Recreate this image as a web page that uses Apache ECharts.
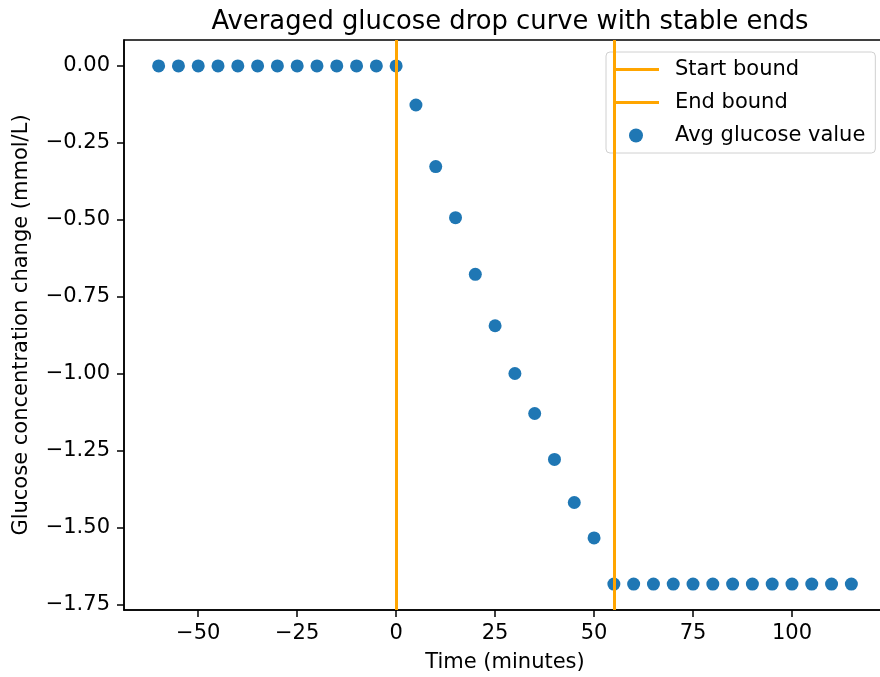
<!DOCTYPE html>
<html>
<head>
<meta charset="utf-8">
<script src="https://cdn.jsdelivr.net/npm/echarts@6/dist/echarts.min.js"></script>
<style>html,body{margin:0;padding:0;background:#fff;}#c{width:880px;height:677px;}</style>
</head>
<body>
<div id="c"></div>
<script>
const times = [-60,-55,-50,-45,-40,-35,-30,-25,-20,-15,-10,-5,0,5,10,15,20,25,30,35,40,45,50,55,60,65,70,75,80,85,90,95,100,105,110,115];
const glucose = [0,0,0,0,0,0,0,0,0,0,0,0,0,-0.127,-0.327,-0.493,-0.677,-0.844,-0.999,-1.129,-1.278,-1.418,-1.533,-1.683,-1.683,-1.683,-1.683,-1.683,-1.683,-1.683,-1.683,-1.683,-1.683,-1.683,-1.683,-1.683];
const startBound = 0;
const endBound = 55;
const xTicks = [-50,-25,0,25,50,75,100];
const yTicks = [0,-0.25,-0.5,-0.75,-1.0,-1.25,-1.5,-1.75];

const FONT = 'DejaVu Sans';
const xMinD = Math.min(...times), xMaxD = Math.max(...times);
const yMinD = Math.min(...glucose), yMaxD = Math.max(...glucose);
const xm = (xMaxD - xMinD) * 0.05, ym = (yMaxD - yMinD) * 0.05;

const chart = echarts.init(document.getElementById('c'), null, {renderer: 'canvas'});
const axisCommon = {
  axisLine: {show: true, onZero: false, lineStyle: {color: '#000', width: 1.5}},
  axisTick: {show: true, length: 7, inside: false, lineStyle: {color: '#000', width: 1.5}},
  splitLine: {show: false},
  nameTextStyle: {fontFamily: FONT, fontSize: 21, color: '#000'}
};
const lineIcon = 'path://M0,0L46,0L46,3L0,3Z';
chart.setOption({
  animation: false,
  backgroundColor: '#fff',
  title: {
    text: 'Averaged glucose drop curve with stable ends',
    left: 505, top: 4, textAlign: 'center',
    textStyle: {fontFamily: FONT, fontSize: 25.8, fontWeight: 'normal', color: '#000'}
  },
  grid: {left: 124, top: 40, width: 762, bottom: 67, containLabel: false, outerBoundsMode: 'none',
    show: true, borderColor: '#000', borderWidth: 1.5, backgroundColor: 'transparent'},
  legend: {
    orient: 'vertical', left: 606, top: 52,
    padding: [7, 10, 7, 7],
    itemWidth: 46, itemHeight: 14, itemGap: 12,
    backgroundColor: 'rgba(255,255,255,0.8)',
    borderColor: '#d0d0d0', borderWidth: 1, borderRadius: 4,
    textStyle: {fontFamily: FONT, fontSize: 21, lineHeight: 21, color: '#000', padding: [0, 0, 0, 11]},
    data: [
      {name: 'Start bound', icon: lineIcon},
      {name: 'End bound', icon: lineIcon},
      {name: 'Avg glucose value', icon: 'circle'}
    ]
  },
  xAxis: Object.assign({}, axisCommon, {
    type: 'value', min: xMinD - xm, max: xMaxD + xm,
    name: 'Time (minutes)', nameLocation: 'middle', nameGap: 42,
    axisLabel: {customValues: xTicks, fontFamily: FONT, fontSize: 21, color: '#000', margin: 13, formatter: v => (v < 0 ? '\u2212' + Math.abs(v) : String(v))},
    axisTick: Object.assign({}, axisCommon.axisTick, {customValues: xTicks})
  }),
  yAxis: Object.assign({}, axisCommon, {
    type: 'value', min: yMinD - ym, max: yMaxD + ym,
    name: 'Glucose concentration change (mmol/L)', nameLocation: 'middle', nameGap: 92,
    axisLabel: {customValues: yTicks, fontFamily: FONT, fontSize: 21, color: '#000', margin: 14,
      formatter: v => (v < 0 ? '\u2212' + Math.abs(v).toFixed(2) : Math.abs(v).toFixed(2))},
    axisTick: Object.assign({}, axisCommon.axisTick, {customValues: yTicks})
  }),
  series: [
    {
      name: 'Start bound', type: 'line', data: [], color: '#ffa500',
      lineStyle: {color: '#ffa500', width: 3},
      markLine: {silent: true, symbol: 'none', z: 5, label: {show: false},
        lineStyle: {color: '#ffa500', width: 3, type: 'solid'}, data: [{xAxis: startBound}]}
    },
    {
      name: 'End bound', type: 'line', data: [], color: '#ffa500',
      lineStyle: {color: '#ffa500', width: 3},
      markLine: {silent: true, symbol: 'none', z: 5, label: {show: false},
        lineStyle: {color: '#ffa500', width: 3, type: 'solid'}, data: [{xAxis: endBound}]}
    },
    {
      name: 'Avg glucose value', type: 'scatter', symbol: 'circle', symbolSize: 13, z: 2,
      itemStyle: {color: '#1f77b4', opacity: 1},
      data: times.map((t, i) => [t, glucose[i]])
    }
  ]
});
</script>
</body>
</html>
